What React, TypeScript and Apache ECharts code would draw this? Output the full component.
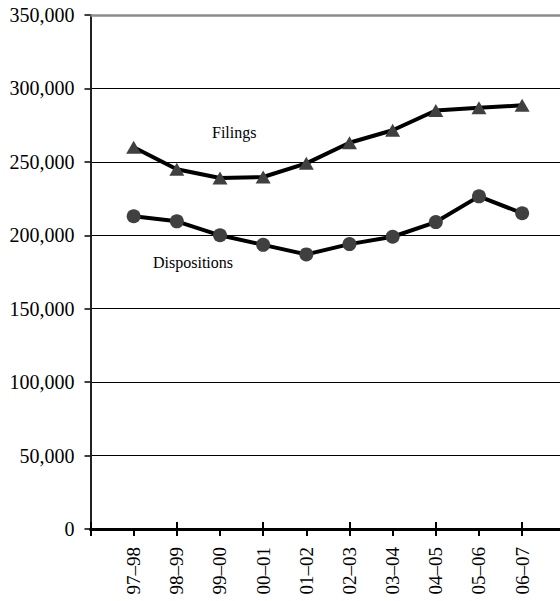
import React, { useEffect, useRef } from "react";
import * as echarts from "echarts";

const periods = ["97–98", "98–99", "99–00", "00–01", "01–02", "02–03", "03–04", "04–05", "05–06", "06–07"];
const filings = [260000, 245000, 239000, 239700, 249000, 263000, 271500, 285000, 286800, 288500];
const dispositions = [213000, 209500, 200000, 193500, 187000, 194000, 199000, 209000, 226500, 215000];
const yTicks = [0, 50000, 100000, 150000, 200000, 250000, 300000, 350000];

const FONT = "Liberation Serif";

export default function App() {
  const ref = useRef<HTMLDivElement>(null);
  useEffect(() => {
    if (!ref.current) return;
    const chart = echarts.init(ref.current, null, { renderer: "svg" });
    const cats = ["", ...periods, ""];
    const pad = (a: number[]) => [null, ...a, null];
    const yMax = yTicks[yTicks.length - 1];
    const splitColors = yTicks.map((_, i) => (i === yTicks.length - 1 ? "#8c8c8c" : "#000"));
    chart.setOption({
      animation: false,
      grid: {
        left: 90.5,
        width: 474.8,
        top: 15,
        bottom: 72,
        containLabel: false,
        outerBoundsMode: "none",
      },
      xAxis: [
        {
          type: "category",
          data: cats,
          boundaryGap: false,
          axisLine: { lineStyle: { color: "#000", width: 3 } },
          axisTick: { show: true, length: 7, lineStyle: { color: "#000", width: 2 } },
          axisLabel: {
            rotate: 90,
            margin: 18,
            interval: 0,
            fontFamily: FONT,
            fontSize: 19,
            color: "#000",
          },
          splitLine: { show: false },
        },
        {
          type: "category",
          data: cats,
          boundaryGap: false,
          position: "bottom",
          axisLine: { show: false },
          axisTick: { show: true, inside: true, length: 7, lineStyle: { color: "#000", width: 2 } },
          axisLabel: { show: false },
          splitLine: { show: false },
        },
      ],
      yAxis: {
        type: "value",
        min: 0,
        max: yMax,
        interval: 50000,
        axisLine: { show: true, lineStyle: { color: "#222", width: 2 } },
        axisTick: { show: true, length: 6, lineStyle: { color: "#000", width: 1.5 } },
        axisLabel: {
          margin: 16,
          fontFamily: FONT,
          fontSize: 20,
          color: "#000",
          formatter: (v: number) => v.toLocaleString("en-US"),
        },
        splitLine: { show: true, lineStyle: { color: splitColors, width: 1 } },
      },
      series: [
        {
          name: "Filings",
          type: "line",
          data: pad(filings),
          symbol: "triangle",
          symbolSize: [15, 13],
          showAllSymbol: true,
          lineStyle: { color: "#000", width: 4 },
          itemStyle: { color: "#404040", borderWidth: 0 },
          z: 3,
          markLine: {
            silent: true,
            symbol: "none",
            label: { show: false },
            lineStyle: { color: "#8c8c8c", width: 2.5, type: "solid" },
            data: [{ yAxis: yMax }],
          },
        },
        {
          name: "Dispositions",
          type: "line",
          data: pad(dispositions),
          symbol: "circle",
          symbolSize: 14,
          showAllSymbol: true,
          lineStyle: { color: "#000", width: 4 },
          itemStyle: { color: "#404040", borderWidth: 0 },
          z: 3,
        },
      ],
      graphic: [
        {
          type: "text",
          left: 212,
          top: 124,
          style: { text: "Filings", fontFamily: FONT, fontSize: 16, fill: "#000" },
        },
        {
          type: "text",
          left: 153,
          top: 254,
          style: { text: "Dispositions", fontFamily: FONT, fontSize: 16, fill: "#000" },
        },
      ],
    });
    return () => chart.dispose();
  }, []);
  return (
    <div
      ref={ref}
      style={{ position: "fixed", left: 0, top: 0, width: 560, height: 601, background: "#fff" }}
    />
  );
}
